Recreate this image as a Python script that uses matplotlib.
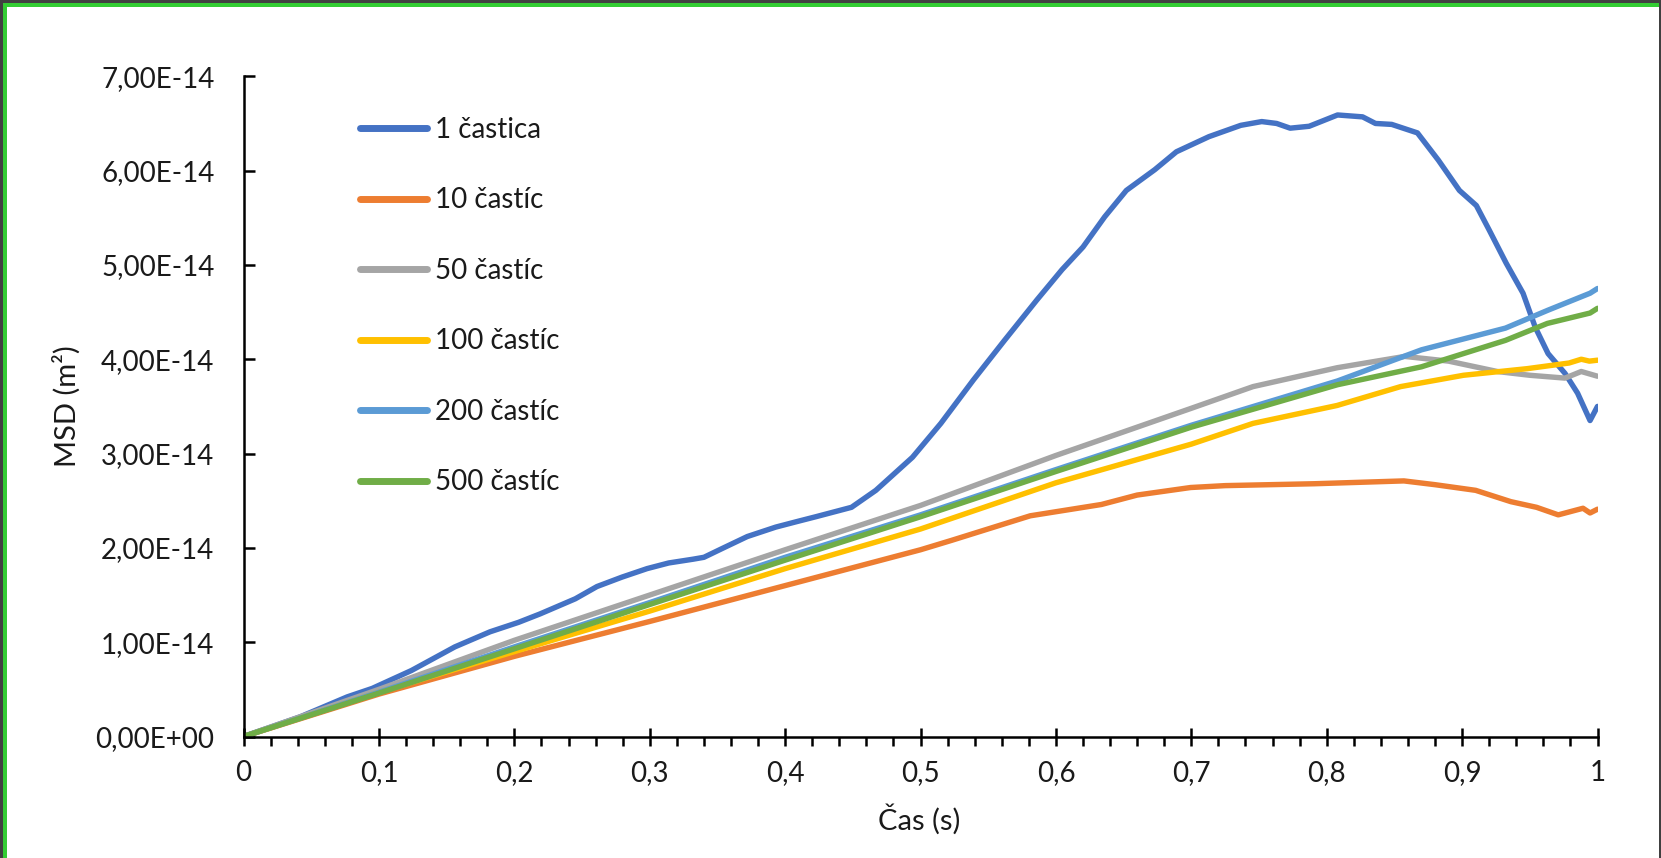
import matplotlib
matplotlib.use('Agg')
import matplotlib.pyplot as plt
from matplotlib.patches import Rectangle
from matplotlib.ticker import MultipleLocator

plt.rcParams['font.family'] = ['Lato', 'DejaVu Sans']

# MSD data (values in 1e-14 m^2)
t_1 = [0, 0.02, 0.042, 0.0765, 0.095, 0.124, 0.156, 0.182, 0.203, 0.219, 0.245, 0.261,
       0.2795, 0.298, 0.314, 0.332, 0.34, 0.353, 0.372, 0.393, 0.409, 0.4226, 0.449,
       0.467, 0.494, 0.515, 0.539, 0.562, 0.586, 0.6045, 0.62, 0.636, 0.652, 0.673,
       0.689, 0.713, 0.7365, 0.752, 0.763, 0.773, 0.787, 0.808, 0.8265, 0.836, 0.848,
       0.867, 0.8825, 0.898, 0.9105, 0.92, 0.9325, 0.945, 0.954, 0.9635, 0.976,
       0.9853, 0.9945, 1.0]
msd_1 = [0, 0.1, 0.21, 0.42, 0.51, 0.70, 0.95, 1.11, 1.21, 1.30, 1.46, 1.59,
         1.69, 1.78, 1.84, 1.88, 1.90, 1.99, 2.12, 2.22, 2.28, 2.33, 2.43,
         2.61, 2.96, 3.32, 3.78, 4.20, 4.63, 4.95, 5.19, 5.51, 5.79, 6.01,
         6.20, 6.36, 6.48, 6.52, 6.50, 6.45, 6.47, 6.59, 6.57, 6.50, 6.49,
         6.40, 6.11, 5.79, 5.63, 5.37, 5.02, 4.70, 4.34, 4.06, 3.85,
         3.64, 3.35, 3.50]

t_10 = [0, 0.1, 0.2, 0.3, 0.4, 0.5, 0.523, 0.581, 0.6336, 0.66, 0.6995, 0.725, 0.791,
        0.857, 0.88, 0.91, 0.936, 0.955, 0.971, 0.9893, 0.9945, 1.0]
msd_10 = [0, 0.45, 0.85, 1.22, 1.6, 1.98, 2.08, 2.34, 2.46, 2.56, 2.64, 2.66, 2.68,
          2.71, 2.67, 2.61, 2.49, 2.43, 2.35, 2.42, 2.37, 2.41]

t_50 = [0, 0.1, 0.2, 0.3, 0.4, 0.5, 0.6, 0.66, 0.7, 0.7456, 0.8077, 0.8576, 0.89,
        0.926, 0.95, 0.976, 0.988, 1.0]
msd_50 = [0, 0.5, 1.02, 1.5, 1.98, 2.45, 2.98, 3.28, 3.48, 3.71, 3.91, 4.03, 3.98,
          3.87, 3.83, 3.80, 3.87, 3.82]

t_100 = [0, 0.1, 0.2, 0.3, 0.4, 0.5, 0.6, 0.7, 0.7456, 0.8077, 0.8546, 0.901, 0.948,
         0.979, 0.988, 0.994, 1.0]
msd_100 = [0, 0.47, 0.9, 1.33, 1.78, 2.2, 2.69, 3.1, 3.32, 3.51, 3.71, 3.83, 3.90,
           3.96, 4.00, 3.98, 3.99]

t_200 = [0, 0.1, 0.2, 0.3, 0.4, 0.5, 0.6, 0.7, 0.808, 0.87, 0.932, 0.9634, 0.9945, 1.0]
msd_200 = [0, 0.47, 0.95, 1.42, 1.9, 2.35, 2.83, 3.3, 3.77, 4.10, 4.33, 4.52, 4.70, 4.75]

t_500 = [0, 0.1, 0.2, 0.3, 0.4, 0.5, 0.6, 0.7, 0.808, 0.87, 0.932, 0.963, 0.9945, 1.0]
msd_500 = [0, 0.46, 0.93, 1.4, 1.87, 2.33, 2.81, 3.28, 3.73, 3.92, 4.20, 4.38, 4.49, 4.54]

labels = ['1 častica', '10 častíc', '50 častíc', '100 častíc', '200 častíc', '500 častíc']
colors = ['#4472C4', '#ED7D31', '#A5A5A5', '#FFC000', '#5B9BD5', '#70AD47']
xticklabels = ['0', '0,1', '0,2', '0,3', '0,4', '0,5', '0,6', '0,7', '0,8', '0,9', '1']
yticklabels = ['0,00E+00', '1,00E-14', '2,00E-14', '3,00E-14', '4,00E-14',
               '5,00E-14', '6,00E-14', '7,00E-14']

W, H = 1661, 858
fig = plt.figure(figsize=(W / 100, H / 100), dpi=100, facecolor='#404040')
# white page with green frame on top/left
fig.patches.append(Rectangle((3 / W, 0), 1656 / W, 855 / H, transform=fig.transFigure,
                             facecolor='white', edgecolor='none', zorder=-10))
fig.patches.append(Rectangle((3 / W, 851 / H), 1656 / W, 4 / H, transform=fig.transFigure,
                             facecolor='#33CC33', edgecolor='none', zorder=-9))
fig.patches.append(Rectangle((3 / W, 0), 4 / W, 855 / H, transform=fig.transFigure,
                             facecolor='#33CC33', edgecolor='none', zorder=-9))

ax = fig.add_axes([243.6 / W, 121.5 / H, 1353.9 / W, 660.2 / H])
ax.patch.set_alpha(0)

series = [(t_1, msd_1), (t_10, msd_10), (t_50, msd_50),
          (t_100, msd_100), (t_200, msd_200), (t_500, msd_500)]
for (t, m), lab, c in zip(series, labels, colors):
    ax.plot(t, [v * 1e-14 for v in m], color=c, lw=3.9, label=lab,
            solid_capstyle='round', solid_joinstyle='round')

ax.set_xlim(0, 1)
ax.set_ylim(0, 7e-14)
ax.set_xticks([i / 10 for i in range(11)])
ax.set_xticklabels(xticklabels)
ax.xaxis.set_minor_locator(MultipleLocator(0.02))
ax.set_yticks([i * 1e-14 for i in range(8)])
ax.set_yticklabels(yticklabels)

for s in ['top', 'right']:
    ax.spines[s].set_visible(False)
for s in ['left', 'bottom']:
    ax.spines[s].set_linewidth(1.8)
    ax.spines[s].set_color('black')

ax.tick_params(axis='x', which='major', direction='inout', length=13.5, width=1.8,
               labelsize=20, pad=10, colors='black')
ax.tick_params(axis='x', which='minor', direction='out', length=6.5, width=1.8)
ax.tick_params(axis='y', which='major', direction='in', length=8, width=1.8,
               labelsize=20, pad=21)
for lbl in ax.get_xticklabels() + ax.get_yticklabels():
    lbl.set_color('#1a1a1a')

ax.set_xlabel('Čas (s)', fontsize=21, color='#1a1a1a', va='center')
ax.xaxis.set_label_coords(0.4988, -0.125)
ax.set_ylabel('MSD (m²)', fontsize=21, color='#1a1a1a', va='center')
ax.yaxis.set_label_coords(-0.1304, 0.5)

leg = ax.legend(loc='upper left', bbox_to_anchor=(360 / W, 1 - 117 / H),
                bbox_transform=fig.transFigure, frameon=False, fontsize=20,
                handlelength=2.4, handletextpad=0.3, labelspacing=1.6,
                borderpad=0, borderaxespad=0)
for h in leg.legend_handles:
    h.set_linewidth(5)
    h.set_solid_capstyle('round')
for txt in leg.get_texts():
    txt.set_color('#1a1a1a')

fig.savefig('out.png', dpi=100, facecolor=fig.get_facecolor())
